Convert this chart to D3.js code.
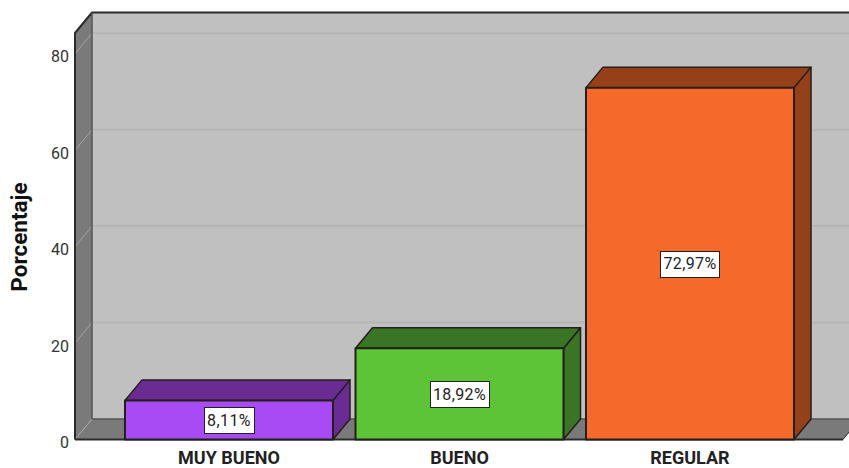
<!DOCTYPE html>
<html><head><meta charset="utf-8">
<script src="https://cdn.jsdelivr.net/npm/d3@7/dist/d3.min.js"></script>
<style>html,body{margin:0;padding:0;background:#fff;overflow:hidden}svg{display:block}text{font-family:Roboto,"Liberation Sans",Arial,sans-serif}</style>
</head><body><svg id="c" width="849" height="468"></svg>
<script>
const categories=["MUY BUENO","BUENO","REGULAR"];
const values=[8.11,18.92,72.97];
const valueLabels=["8,11%","18,92%","72,97%"];
const frontColors=["#a94bf5","#5ec437","#f5692b"];
const topColors=["#6a2b93","#3a7525","#96401a"];
const yTicks=[0,20,40,60,80];
const svg=d3.select("#c");
const depthX=17,depthY=20.5,W=849,H=468;
const y=d3.scaleLinear().domain([0,84.3]).range([439.5,33]);
const x=d3.scaleBand().domain(categories).range([113.75,805.25]).paddingInner(0.0976).paddingOuter(0.0488);
const left=75,right=843,floorY=y(0),topY=y(84.3);
const poly=(pts,fill,stroke,sw)=>svg.append("path").attr("d",d3.line()(pts)+"Z").attr("fill",fill).attr("stroke",stroke||"none").attr("stroke-width",sw||0).attr("stroke-linejoin","round");
// back wall
svg.append("rect").attr("x",left+depthX).attr("y",topY-depthY).attr("width",W).attr("height",floorY-topY).attr("fill","#c0c0c0");
// side wall and floor
poly([[left,topY],[left+depthX,topY-depthY],[left+depthX,floorY-depthY],[left,floorY]],"#7a7a7a");
poly([[left,floorY],[left+depthX,floorY-depthY],[right+depthX,floorY-depthY],[right,floorY]],"#7a7a7a");
// grid
yTicks.forEach(t=>{
  if(t>0) svg.append("line").attr("x1",left+depthX).attr("x2",W).attr("y1",y(t)-depthY).attr("y2",y(t)-depthY).attr("stroke","#b5b5b5").attr("stroke-width",2);
  svg.append("line").attr("x1",left).attr("x2",left+depthX).attr("y1",y(t)).attr("y2",y(t)-depthY).attr("stroke","#a6a6a6").attr("stroke-width",1);
});
// frame
const dark="#2b2b2b";
svg.append("path").attr("fill","none").attr("stroke",dark).attr("stroke-width",2).attr("stroke-linejoin","round")
 .attr("d",d3.line()([[left,floorY],[left,topY],[left+depthX,topY-depthY],[W,topY-depthY]]));
svg.append("line").attr("x1",left).attr("x2",right).attr("y1",floorY).attr("y2",floorY).attr("stroke",dark).attr("stroke-width",2);
svg.append("line").attr("x1",right).attr("x2",right+depthX).attr("y1",floorY).attr("y2",floorY-depthY).attr("stroke",dark).attr("stroke-width",1);
svg.append("line").attr("x1",left+depthX).attr("x2",left+depthX).attr("y1",topY-depthY).attr("y2",floorY-depthY).attr("stroke","#555").attr("stroke-width",1.5);
svg.append("line").attr("x1",left+depthX).attr("x2",W).attr("y1",floorY-depthY).attr("y2",floorY-depthY).attr("stroke","#555").attr("stroke-width",1.5);
// bars
const edge="#231f1a";
categories.forEach((c,i)=>{
  const x0=x(c),x1=x0+x.bandwidth(),yT=y(values[i]);
  poly([[x1,yT],[x1+depthX,yT-depthY],[x1+depthX,floorY-depthY],[x1,floorY]],topColors[i],edge,1.5);
  poly([[x0,yT],[x0+depthX,yT-depthY],[x1+depthX,yT-depthY],[x1,yT]],topColors[i],edge,1.5);
  poly([[x0,yT],[x1,yT],[x1,floorY],[x0,floorY]],frontColors[i],edge,2);
  const cx=(x0+x1)/2,cy=(yT+floorY)/2;
  const t=svg.append("text").attr("x",cx).attr("y",cy).attr("text-anchor","middle").attr("dy","0.36em").attr("font-size",16).attr("letter-spacing",0.4).attr("fill","#222").text(valueLabels[i]);
  const b=t.node().getBBox();
  svg.insert("rect","text:last-child").attr("x",Math.round(b.x-3)+.5).attr("y",Math.round(cy-13)+.5).attr("width",Math.round(b.width+6)).attr("height",26).attr("fill","#fff").attr("stroke","#222").attr("stroke-width",1);
  svg.append("text").attr("x",cx).attr("y",464).attr("text-anchor","middle").attr("font-size",18).attr("font-weight","bold").attr("fill","#222").text(c);
});
// y axis labels
const axis=svg.append("g").attr("transform",`translate(${left},3)`).call(d3.axisLeft(y).tickValues(yTicks).tickSize(0).tickPadding(6).tickFormat(d3.format("d")));
axis.select(".domain").remove();
axis.selectAll("text").attr("font-size",16).attr("fill","#333").style("font-family",'Roboto,"Liberation Sans",Arial,sans-serif');
svg.append("text").attr("transform","translate(27,237) rotate(-90)").attr("text-anchor","middle").attr("font-size",22.5).attr("font-weight","bold").attr("fill","#111").text("Porcentaje");
</script></body></html>
